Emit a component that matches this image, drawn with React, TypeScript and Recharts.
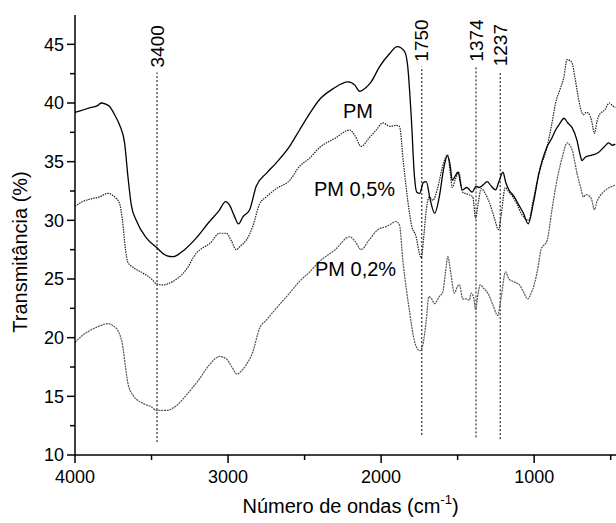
import {
  LineChart,
  Line,
  XAxis,
  YAxis,
  ReferenceLine,
  ReferenceDot,
} from "recharts"

const FONT = "'Liberation Sans', Arial, sans-serif"

// PM (solid)
const pmWn = [
  4000, 3950, 3900, 3850, 3828, 3800, 3774, 3741, 3708, 3676, 3654, 3632, 3600, 3534, 3469, 3403,
  3360, 3284, 3207, 3121, 3060, 3016, 2990, 2960, 2932, 2903, 2859, 2816, 2750, 2685, 2598, 2533,
  2467, 2402, 2315, 2217, 2170, 2141, 2100, 2065, 2010, 1945, 1895, 1847, 1826, 1803, 1782, 1767,
  1748, 1725, 1705, 1680, 1650, 1620, 1590, 1567, 1550, 1535, 1515, 1498, 1470, 1440, 1405, 1380,
  1361, 1335, 1307, 1280, 1252, 1230, 1204, 1185, 1165, 1130, 1100, 1070, 1039, 1005, 969, 915,
  885, 860, 830, 806, 780, 752, 720, 700, 687, 665, 643, 610, 578, 540, 513, 490, 470,
]
const pmT = [
  39.2, 39.4, 39.6, 39.8, 40.0, 39.9, 39.7, 39.0, 38.1, 36.6, 33.7, 31.3, 30.0, 28.5, 27.7, 27.0,
  26.9, 27.5, 28.5, 29.9, 30.8, 31.6, 31.3, 30.4, 29.7, 30.3, 30.9, 32.9, 34.0, 34.9, 36.3, 37.7,
  39.1, 40.3, 41.2, 41.8, 41.5, 41.0, 41.3, 41.8, 43.1, 44.2, 44.8, 44.4, 43.1, 38.8, 33.7, 32.4,
  32.3, 33.2, 33.3, 31.8, 30.6, 32.0, 34.5, 35.5, 34.8, 33.4, 33.8, 34.1, 32.6, 32.8, 32.4, 32.9,
  32.8, 33.0, 33.3, 32.9, 32.6, 33.3, 34.1, 33.2, 32.6, 32.0, 31.3, 30.6, 29.7, 31.5, 34.0, 36.3,
  37.0, 37.7, 38.3, 38.7, 38.3, 37.9, 36.8, 35.6, 35.1, 35.4, 35.5, 35.6, 35.8, 36.3, 36.6, 36.4, 36.5,
]

// PM 0,5% (dotted)
const pm05Wn = [
  4000, 3950, 3904, 3839, 3785, 3760, 3741, 3708, 3690, 3670, 3654, 3621, 3556, 3500, 3469, 3426,
  3360, 3300, 3273, 3208, 3160, 3121, 3055, 3012, 2980, 2947, 2920, 2881, 2838, 2794, 2750, 2685,
  2598, 2533, 2467, 2402, 2300, 2206, 2170, 2130, 2080, 2032, 1989, 1940, 1901, 1880, 1855, 1826,
  1800, 1771, 1750, 1738, 1720, 1705, 1684, 1662, 1630, 1600, 1565, 1548, 1535, 1515, 1493, 1467,
  1430, 1401, 1383, 1365, 1346, 1320, 1292, 1260, 1233, 1215, 1189, 1165, 1140, 1110, 1085, 1036,
  1005, 969, 915, 885, 860, 830, 806, 785, 765, 752, 735, 720, 700, 678, 660, 643, 625, 606, 590,
  574, 540, 509, 490, 470,
]
const pm05T = [
  31.2, 31.6, 31.8, 32.0, 32.3, 32.2, 32.0, 31.4, 30.0, 27.5, 26.4, 26.0, 25.5, 25.0, 24.6, 24.5,
  24.8, 25.4, 25.8, 27.2, 27.7, 28.0, 28.9, 28.9, 28.3, 27.5, 27.8, 28.3, 29.5, 31.4, 32.0, 32.7,
  33.4, 34.6, 35.3, 36.2, 37.0, 37.7, 37.2, 36.3, 37.0, 37.7, 38.3, 38.0, 38.1, 38.0, 35.0, 31.7,
  29.5, 28.6, 27.2, 26.8, 28.8, 30.9, 32.0, 31.7, 32.8, 34.5, 35.6, 34.0, 32.8, 33.5, 34.1, 32.4,
  32.2, 32.0, 30.2, 31.5, 32.7, 32.3, 31.5, 30.2, 29.2, 30.5, 32.8, 32.4, 32.0, 31.3, 30.6, 30.0,
  31.8, 34.0, 36.3, 38.2, 40.0, 41.2, 42.2, 43.7, 43.6, 43.4, 42.3, 41.1, 39.7, 39.0, 39.2, 39.1,
  38.5, 37.4, 38.4, 39.0, 39.4, 40.0, 39.8, 39.6,
]

// PM 0,2% (dotted, grey)
const pm02Wn = [
  4000, 3950, 3904, 3839, 3785, 3750, 3720, 3687, 3670, 3654, 3621, 3556, 3500, 3469, 3403, 3338,
  3273, 3186, 3121, 3055, 3012, 2975, 2942, 2910, 2881, 2838, 2794, 2750, 2685, 2598, 2533, 2467,
  2402, 2300, 2206, 2170, 2130, 2080, 2021, 1960, 1901, 1880, 1858, 1815, 1782, 1760, 1745, 1727,
  1705, 1688, 1670, 1651, 1620, 1597, 1580, 1564, 1545, 1521, 1500, 1488, 1467, 1445, 1423, 1412,
  1395, 1383, 1368, 1353, 1330, 1303, 1270, 1238, 1215, 1187, 1165, 1140, 1096, 1070, 1042, 1020,
  998, 975, 955, 915, 885, 860, 816, 785, 752, 735, 720, 700, 678, 660, 643, 625, 606, 590, 574,
  540, 509, 490, 470,
]
const pm02T = [
  19.6, 20.2, 20.6, 21.0, 21.2, 21.0, 20.6, 19.2, 17.5, 16.1, 15.1, 14.4, 14.1, 13.8, 13.8, 14.2,
  15.1, 16.5, 17.7, 18.4, 18.2, 17.5, 16.9, 17.2, 17.7, 18.8, 20.8, 21.5, 22.5, 23.8, 24.8, 25.6,
  26.5, 27.5, 28.6, 28.2, 27.5, 28.3, 29.2, 29.5, 29.9, 29.6, 26.6, 22.3, 19.7, 19.0, 18.9, 19.4,
  21.5, 23.5, 23.3, 22.9, 23.5, 23.9, 25.5, 26.9, 25.5, 23.8, 24.4, 24.5, 23.3, 23.3, 23.2, 23.8,
  23.4, 22.4, 23.6, 24.5, 24.2, 23.8, 22.8, 21.9, 23.5, 25.6, 25.0, 24.8, 24.5, 23.9, 23.3, 23.8,
  24.6, 26.0, 27.5, 28.3, 30.8, 32.8, 35.4, 36.6, 36.0, 35.0, 34.0, 33.0, 32.0, 32.2, 32.1, 31.8,
  30.9, 31.6, 32.0, 32.5, 32.8, 32.9, 33.0,
]

// band markers (dotted verticals)
const bandWn = [3464, 1734, 1380, 1222]
const bandLabels = ["3400", "1750", "1374", "1237"]
const bandTop = [42.6, 43.1, 43.1, 42.7]
const bandBottom = [11.1, 11.7, 11.5, 11.35]

const xTicks = [4000, 3500, 3000, 2500, 2000, 1500, 1000, 500]
const yTicks = [10, 12.5, 15, 17.5, 20, 22.5, 25, 27.5, 30, 32.5, 35, 37.5, 40, 42.5, 45]

const zip = (wn: number[], t: number[]) => wn.map((w, i) => ({ wn: w, t: t[i] }))
const pmData = zip(pmWn, pmT)
const pm05Data = zip(pm05Wn, pm05T)
const pm02Data = zip(pm02Wn, pm02T)

function BottomTick({ x, y, payload }: any) {
  const major = payload.value % 1000 === 0
  return (
    <g>
      <line x1={x} x2={x} y1={y} y2={y + (major ? 8 : 5)} stroke="#000" strokeWidth={1.5} />
      {major && (
        <text x={x} y={y + 28} textAnchor="middle" fontSize={18} fontFamily={FONT} fill="#000">
          {payload.value}
        </text>
      )}
    </g>
  )
}

function TopTick({ x, y }: any) {
  return <line x1={x} x2={x} y1={y} y2={y + 3} stroke="#000" strokeWidth={1.5} />
}

function LeftTick({ x, y, payload }: any) {
  const major = payload.value % 5 === 0
  return (
    <g>
      <line x1={x - (major ? 8 : 5)} x2={x} y1={y} y2={y} stroke="#000" strokeWidth={1.5} />
      {major && (
        <text x={x - 11} y={y} dy="0.36em" textAnchor="end" fontSize={18} fontFamily={FONT} fill="#000">
          {payload.value}
        </text>
      )}
    </g>
  )
}

const bandLabel = (text: string) => (p: any) => {
  const cx = p.viewBox.x
  const top = p.viewBox.y - 5
  return (
    <text
      x={cx}
      y={top}
      transform={`rotate(-90 ${cx} ${top})`}
      textAnchor="start"
      dominantBaseline="central"
      fontSize={19}
      fontFamily={FONT}
      fill="#000"
    >
      {text}
    </text>
  )
}

const curveLabel = (value: string) => ({
  value,
  position: "center" as const,
  fontSize: 20,
  fontFamily: FONT,
  fill: "#000",
})

export default function App() {
  return (
    <div
      style={{
        position: "fixed",
        left: 0,
        top: 0,
        width: 616,
        height: 523,
        overflow: "hidden",
        background: "#fff",
      }}
    >
      <LineChart width={650} height={523} margin={{ top: 15, right: 24, bottom: 0, left: 0 }}>
        <XAxis
          xAxisId="b"
          type="number"
          dataKey="wn"
          domain={[400, 4000]}
          reversed
          allowDataOverflow
          ticks={xTicks}
          interval={0}
          tickSize={0}
          tickMargin={0}
          tick={<BottomTick />}
          tickLine={false}
          axisLine={{ stroke: "#000", strokeWidth: 1.5 }}
          height={68}
          label={(p: any) => (
            <text
              x={p.viewBox.x + p.viewBox.width / 2}
              y={p.viewBox.y + 58}
              textAnchor="middle"
              fontSize={20}
              fontFamily={FONT}
              fill="#000"
            >
              Número de ondas (cm
              <tspan dy={-9} fontSize={13}>
                -1
              </tspan>
              <tspan dy={9}>)</tspan>
            </text>
          )}
        />
        <XAxis
          xAxisId="t"
          orientation="top"
          type="number"
          dataKey="wn"
          domain={[400, 4000]}
          reversed
          allowDataOverflow
          ticks={xTicks}
          interval={0}
          tickSize={0}
          tickMargin={0}
          tick={<TopTick />}
          tickLine={false}
          axisLine={{ stroke: "#000", strokeWidth: 1.5 }}
          height={0}
        />
        <YAxis
          yAxisId="l"
          type="number"
          domain={[10, 47.5]}
          allowDataOverflow
          ticks={yTicks}
          interval={0}
          tickSize={0}
          tickMargin={0}
          tick={<LeftTick />}
          tickLine={false}
          axisLine={{ stroke: "#000", strokeWidth: 1.5 }}
          width={75}
          label={(p: any) => {
            const x = p.viewBox.x + 27
            const y = p.viewBox.y + p.viewBox.height / 2 + 17
            return (
              <text
                x={x}
                y={y}
                transform={`rotate(-90 ${x} ${y})`}
                textAnchor="middle"
                fontSize={20}
                fontFamily={FONT}
                fill="#000"
              >
                Transmitância (%)
              </text>
            )
          }}
        />

        {bandWn.map((w, i) => (
          <ReferenceLine
            key={bandLabels[i]}
            xAxisId="b"
            yAxisId="l"
            segment={[
              { x: w, y: bandBottom[i] },
              { x: w, y: bandTop[i] },
            ]}
            stroke="#000"
            strokeWidth={1}
            strokeDasharray="2 2"
            label={bandLabel(bandLabels[i])}
          />
        ))}

        <Line
          xAxisId="b"
          yAxisId="l"
          data={pm02Data}
          dataKey="t"
          type="monotone"
          stroke="#555"
          strokeWidth={1.2}
          strokeDasharray="2 0.8"
          dot={false}
          isAnimationActive={false}
        />
        <Line
          xAxisId="b"
          yAxisId="l"
          data={pm05Data}
          dataKey="t"
          type="monotone"
          stroke="#222"
          strokeWidth={1.2}
          strokeDasharray="1.5 1"
          dot={false}
          isAnimationActive={false}
        />
        <Line
          xAxisId="b"
          yAxisId="l"
          data={pmData}
          dataKey="t"
          type="monotone"
          stroke="#000"
          strokeWidth={1.3}
          dot={false}
          isAnimationActive={false}
        />

        <ReferenceDot xAxisId="b" yAxisId="l" x={2151} y={39.3} r={1} fill="none" stroke="none" label={curveLabel("PM")} />
        <ReferenceDot xAxisId="b" yAxisId="l" x={2174} y={32.7} r={1} fill="none" stroke="none" label={curveLabel("PM 0,5%")} />
        <ReferenceDot xAxisId="b" yAxisId="l" x={2167} y={25.9} r={1} fill="none" stroke="none" label={curveLabel("PM 0,2%")} />
      </LineChart>
    </div>
  )
}
